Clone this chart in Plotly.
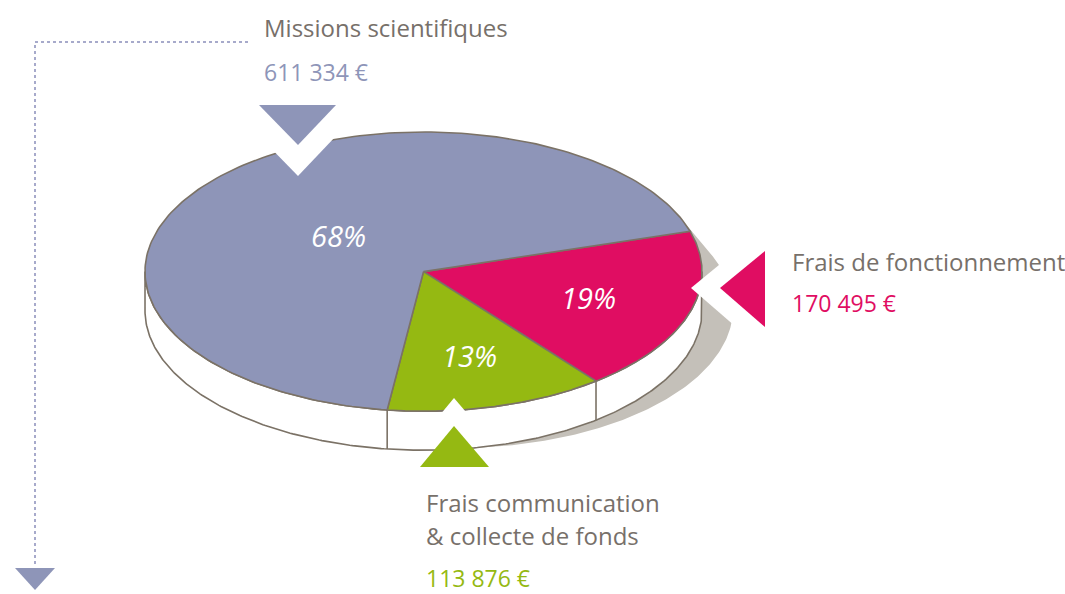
import numpy as np
import plotly.graph_objects as go

# ---------------- data ----------------
categories = ["Missions scientifiques", "Frais de fonctionnement",
              "Frais communication\n& collecte de fonds"]
values = [611334, 170495, 113876]
value_labels = ["611 334 €", "170 495 €", "113 876 €"]
colors = ["#8e95b8", "#e00d62", "#95b912"]

# ---------------- geometry / style ----------------
W, H = 1065, 594
CX, CY, RX, RY, TH = 423.5, 271.6, 278.5, 139.6, 39
START = 16.8                 # parametric angle of first slice edge (deg)
DRAW_ORDER = [1, 2, 0]       # clockwise from START
LABEL_R = {0: 0.40, 1: 0.62, 2: 0.62}
OUTLINE = "#7b7266"
SHADOW = "#c4c0b9"
TEXT_GREY = "#77706a"
FONT = "Open Sans"

total = sum(values)
fracs = [v / total for v in values]


def rim(t_deg, dx=0.0, dy=0.0):
    t = np.radians(np.asarray(t_deg, dtype=float))
    return CX + dx + RX * np.cos(t), CY + dy - RY * np.sin(t)


fig = go.Figure()


def poly(xs, ys, fill, line_color=None, lw=0):
    fig.add_trace(go.Scatter(
        x=list(xs), y=list(ys), mode="lines", fill="toself", fillcolor=fill,
        line=dict(color=line_color or fill, width=lw), hoverinfo="skip"))


# shadow (crescent to the right / bottom right)
ts = np.linspace(22, -130, 200)
sx, sy = rim(ts, dx=31, dy=TH - 2)
tx, ty = rim(ts[::-1])
poly(np.r_[sx, tx], np.r_[sy, ty], SHADOW)

# cylinder side (front half)
ts = np.linspace(-180, 0, 300)
ax, ay = rim(ts)
bx, by = rim(ts[::-1], dy=TH)
poly(np.r_[ax, bx, ax[:1]], np.r_[ay, by, ay[:1]], "white", OUTLINE, 1.6)

# slices
t = START
bounds = [START]
mids = {}
for i in DRAW_ORDER:
    span = 360 * fracs[i]
    tt = np.linspace(t, t - span, 200)
    xs, ys = rim(tt)
    poly(np.r_[CX, xs, CX], np.r_[CY, ys, CY], colors[i], OUTLINE, 1.6)
    mids[i] = t - span / 2
    t -= span
    bounds.append(t)

# vertical edges where slice boundaries meet the front side
for b in bounds:
    if np.sin(np.radians(b)) < -0.05:
        x0, y0 = rim(b)
        x1, y1 = rim(b, dy=TH)
        fig.add_trace(go.Scatter(x=[x0, x1], y=[y0, y1], mode="lines",
                                 line=dict(color=OUTLINE, width=1.6),
                                 hoverinfo="skip"))

# pointer triangles with white "cut" chevrons
tri = {
    0: ([259, 336, 298], [105, 105, 145], (0, 31)),
    1: ([765, 765, 720], [251, 327, 288], (-29, 0)),
    2: ([420, 489, 454], [467, 467, 426], (0, -28)),
}
for i, (xs, ys, (ddx, ddy)) in tri.items():
    poly([x + ddx for x in xs] + [xs[0] + ddx], [y + ddy for y in ys] + [ys[0] + ddy], "white")
for i, (xs, ys, _) in tri.items():
    poly(xs + [xs[0]], ys + [ys[0]], colors[i])

# dotted guide line with arrow
fig.add_trace(go.Scatter(x=[248, 35, 35], y=[42, 42, 566], mode="lines",
                         line=dict(color="#a7aacb", width=2, dash="dot"),
                         hoverinfo="skip"))
poly([15, 55, 35, 15], [568, 568, 590, 568], "#8e95b8")

# percent labels
for i in range(3):
    r = LABEL_R[i]
    a = np.radians(mids[i])
    fig.add_annotation(x=CX + r * RX * np.cos(a), y=CY - r * RY * np.sin(a),
                       text=f"<i>{round(fracs[i] * 100)}%</i>", showarrow=False,
                       font=dict(family=FONT, size=29, color="white"),
                       xanchor="center", yanchor="middle")

# category + value labels
lab_pos = {0: (262, 27, 72), 1: (790, 261, 303), 2: (424, 502, 578)}
for i, (lx, ly, vy) in lab_pos.items():
    lines = categories[i].split("\n")
    for k, line in enumerate(lines):
        fig.add_annotation(x=lx, y=ly + 33 * k, text=line, showarrow=False,
                           font=dict(family=FONT, size=24, color=TEXT_GREY),
                           xanchor="left", yanchor="middle")
    fig.add_annotation(x=lx, y=vy, text=value_labels[i], showarrow=False,
                       font=dict(family=FONT, size=23, color=colors[i]),
                       xanchor="left", yanchor="middle")

fig.update_layout(
    width=W, height=H, margin=dict(l=0, r=0, t=0, b=0),
    paper_bgcolor="white", plot_bgcolor="white", showlegend=False,
    xaxis=dict(range=[0, W], visible=False, fixedrange=True),
    yaxis=dict(range=[H, 0], visible=False, fixedrange=True),
)
fig.write_html("out.html", config={"displayModeBar": False},
               post_script="document.body.style.margin='0';"
                           "document.body.style.overflow='hidden';")
